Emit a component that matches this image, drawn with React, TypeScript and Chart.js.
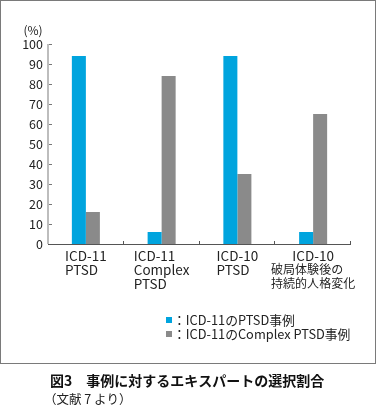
import React, { useEffect, useRef } from "react";
import { Chart, registerables } from "chart.js";

Chart.register(...registerables);

const categories: string[][] = [
  ["ICD-11", "PTSD"],
  ["ICD-11", "Complex", "PTSD"],
  ["ICD-10", "PTSD"],
  ["ICD-10", "破局体験後の", "持続的人格変化"],
];
const firstLineCentered = [false, false, false, true];
const seriesNames = ["：ICD-11のPTSD事例", "：ICD-11のComplex PTSD事例"];
const ptsdValues = [94, 6, 94, 6];
const complexValues = [16, 84, 35, 65];
const yTicks = [0, 10, 20, 30, 40, 50, 60, 70, 80, 90, 100];
const unitLabel = "(%)";
const captionTitle = "図3　事例に対するエキスパートの選択割合";
const captionSource = "（文献 7 より）";

const BLUE = "#00a4de";
const GRAY = "#8a8a8a";
const FONT = '"Noto Sans CJK JP", "Noto Sans", sans-serif';

export default function App() {
  const ref = useRef<HTMLCanvasElement>(null);
  useEffect(() => {
    if (!ref.current) return;
    const deco = {
      id: "deco",
      afterDraw(chart: any) {
        const ctx = chart.ctx as CanvasRenderingContext2D;
        const ca = chart.chartArea;
        const ys = chart.scales.y;
        const xs = chart.scales.x;
        ctx.save();
        // frame
        ctx.strokeStyle = "#7a7a7a";
        ctx.lineWidth = 1;
        ctx.strokeRect(0.5, 0.5, 375, 363);
        // y axis
        const y0 = ys.getPixelForValue(0);
        const y100 = ys.getPixelForValue(100);
        ctx.fillStyle = "#bdbdbd";
        ctx.fillRect(ca.left - 1, y100, 2, y0 - y100);
        ctx.font = `12.5px ${FONT}`;
        ctx.textAlign = "right";
        ctx.textBaseline = "middle";
        for (const v of yTicks) {
          const y = ys.getPixelForValue(v);
          ctx.fillStyle = "#777";
          ctx.fillRect(ca.left + 1, Math.round(y), 3, 1);
          ctx.fillStyle = "#222";
          ctx.fillText(String(v), ca.left - 5, y + 0.5);
        }
        // unit
        ctx.font = `12px ${FONT}`;
        ctx.textAlign = "center";
        ctx.fillText(unitLabel, 33, 30);
        // x axis
        ctx.fillStyle = "#555";
        ctx.fillRect(ca.left, Math.round(y0), ca.right - ca.left, 1);
        const n = categories.length;
        const cw = (ca.right - ca.left) / n;
        for (let i = 1; i <= n; i++) {
          const x = Math.round(ca.left + i * cw);
          ctx.fillRect(x - 1, Math.round(y0) - 3, 1, 3);
        }
        // x labels
        ctx.fillStyle = "#222";
        ctx.textAlign = "left";
        categories.forEach((lines, i) => {
          const cx = xs.getPixelForValue(i);
          const fonts = lines.map((l) =>
            /[^\x00-\x7f]/.test(l) ? `12px ${FONT}` : `13.5px ${FONT}`
          );
          const widths = lines.map((l, j) => {
            ctx.font = fonts[j];
            return ctx.measureText(l).width;
          });
          const bw = Math.max(...widths);
          const left = cx - bw / 2;
          lines.forEach((l, j) => {
            ctx.font = fonts[j];
            const y = 256 + j * 13.7;
            const x = j === 0 && firstLineCentered[i] ? cx - widths[j] / 2 : left;
            ctx.fillText(l, x, y);
          });
        });
        // legend
        ctx.font = `12.8px ${FONT}`;
        const colors = [BLUE, GRAY];
        seriesNames.forEach((s, i) => {
          const y = 320 + i * 14;
          ctx.fillStyle = colors[i];
          ctx.fillRect(166, y - 3, 6, 6);
          ctx.fillStyle = "#222";
          ctx.fillText(s, 173, y + 0.5);
        });
        // caption
        ctx.font = `bold 14px ${FONT}`;
        ctx.fillStyle = "#111";
        ctx.fillText(captionTitle, 50, 381);
        ctx.font = `12.5px ${FONT}`;
        ctx.fillStyle = "#222";
        ctx.fillText(captionSource, 44, 399);
        ctx.restore();
      },
    };
    const chart = new Chart(ref.current, {
      type: "bar",
      data: {
        labels: categories.map((c) => c.join(" ")),
        datasets: [
          { label: seriesNames[0], data: ptsdValues, backgroundColor: BLUE },
          { label: seriesNames[1], data: complexValues, backgroundColor: GRAY },
        ],
      },
      options: {
        animation: false,
        responsive: false,
        devicePixelRatio: 1,
        layout: { padding: { left: 48, right: 26, top: 44, bottom: 163 } },
        datasets: { bar: { barPercentage: 1, categoryPercentage: 0.37 } },
        plugins: { legend: { display: false }, tooltip: { enabled: false } },
        scales: {
          x: { display: false },
          y: { display: false, min: 0, max: 100, ticks: { stepSize: 10 } },
        },
      },
      plugins: [deco],
    });
    return () => chart.destroy();
  }, []);
  return (
    <div style={{ position: "fixed", left: 0, top: 0, width: 377, height: 407, background: "#fff" }}>
      <canvas ref={ref} width={377} height={407} style={{ display: "block", width: 377, height: 407 }} />
    </div>
  );
}
